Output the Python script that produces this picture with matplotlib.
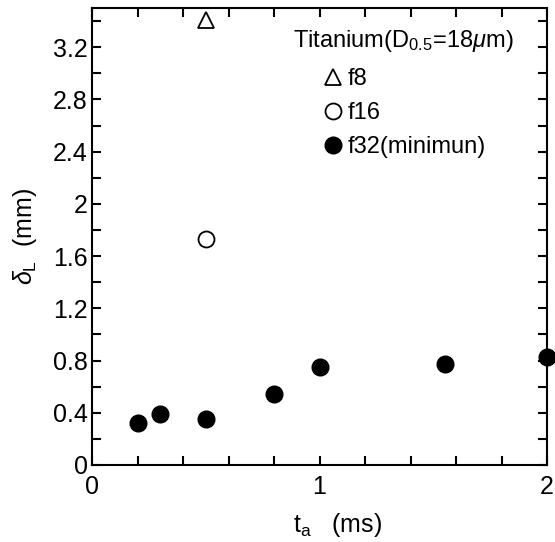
import matplotlib.pyplot as plt
from matplotlib.ticker import MultipleLocator

plt.rcParams['font.family'] = ['Liberation Sans', 'DejaVu Sans']
plt.rcParams['mathtext.fontset'] = 'custom'
plt.rcParams['mathtext.rm'] = 'Liberation Sans'
plt.rcParams['mathtext.it'] = 'Liberation Sans:italic'

# f8 and f16 (one point each)
f8_t = [0.5]
f8_d = [3.41]
f16_t = [0.5]
f16_d = [1.73]
# f32 (minimum)
f32_t = [0.2, 0.3, 0.5, 0.8, 1.0, 1.55, 2.0]
f32_d = [0.32, 0.39, 0.35, 0.54, 0.75, 0.77, 0.83]

y_ticks = [0, 0.4, 0.8, 1.2, 1.6, 2.0, 2.4, 2.8, 3.2]
y_labels = ['0', '0.4', '0.8', '1.2', '1.6', '2', '2.4', '2.8', '3.2']

fig = plt.figure(figsize=(5.55, 5.42), dpi=100)
ax = fig.add_axes([92/555, 1 - 465/542, 455/555, 457/542])

ax.plot(f8_t, f8_d, linestyle='none', marker='^', markersize=12,
        markerfacecolor='white', markeredgecolor='black', markeredgewidth=1.3,
        label='f8', clip_on=False)
ax.plot(f16_t, f16_d, linestyle='none', marker='o', markersize=11.5,
        markerfacecolor='white', markeredgecolor='black', markeredgewidth=1.3,
        label='f16', clip_on=False)
ax.plot(f32_t, f32_d, linestyle='none', marker='o', markersize=12,
        color='black', label='f32(minimun)', clip_on=False)

ax.set_xlim(0, 2)
ax.set_ylim(0, 3.5)
ax.xaxis.set_major_locator(MultipleLocator(1))
ax.xaxis.set_minor_locator(MultipleLocator(0.2))
ax.yaxis.set_minor_locator(MultipleLocator(0.2))
ax.set_yticks(y_ticks)
ax.set_yticklabels(y_labels)

ax.tick_params(which='both', direction='in', top=True, right=True,
               labelsize=18, width=1.5, length=6.5)
ax.tick_params(axis='x', pad=7)
ax.tick_params(axis='y', pad=3)
for s in ax.spines.values():
    s.set_linewidth(1.5)

ax.set_xlabel('t$_\\mathrm{a}$   (ms)', fontsize=18)
ax.xaxis.set_label_coords(0.54, -0.1)
ax.set_ylabel('$\\delta_\\mathrm{L}$  (mm)', fontsize=18, labelpad=10)

ax.text(0.442, 0.928, 'Titanium(D$_{0.5}$=18$\\mu$m)', transform=ax.transAxes,
        fontsize=17, ha='left', va='center')
ax.legend(loc='upper left', bbox_to_anchor=(0.503, 0.868), frameon=False,
          fontsize=17, borderpad=0, borderaxespad=0, handlelength=1.0,
          handletextpad=0.15, labelspacing=0.5)

fig.savefig('out.png', dpi=100)
